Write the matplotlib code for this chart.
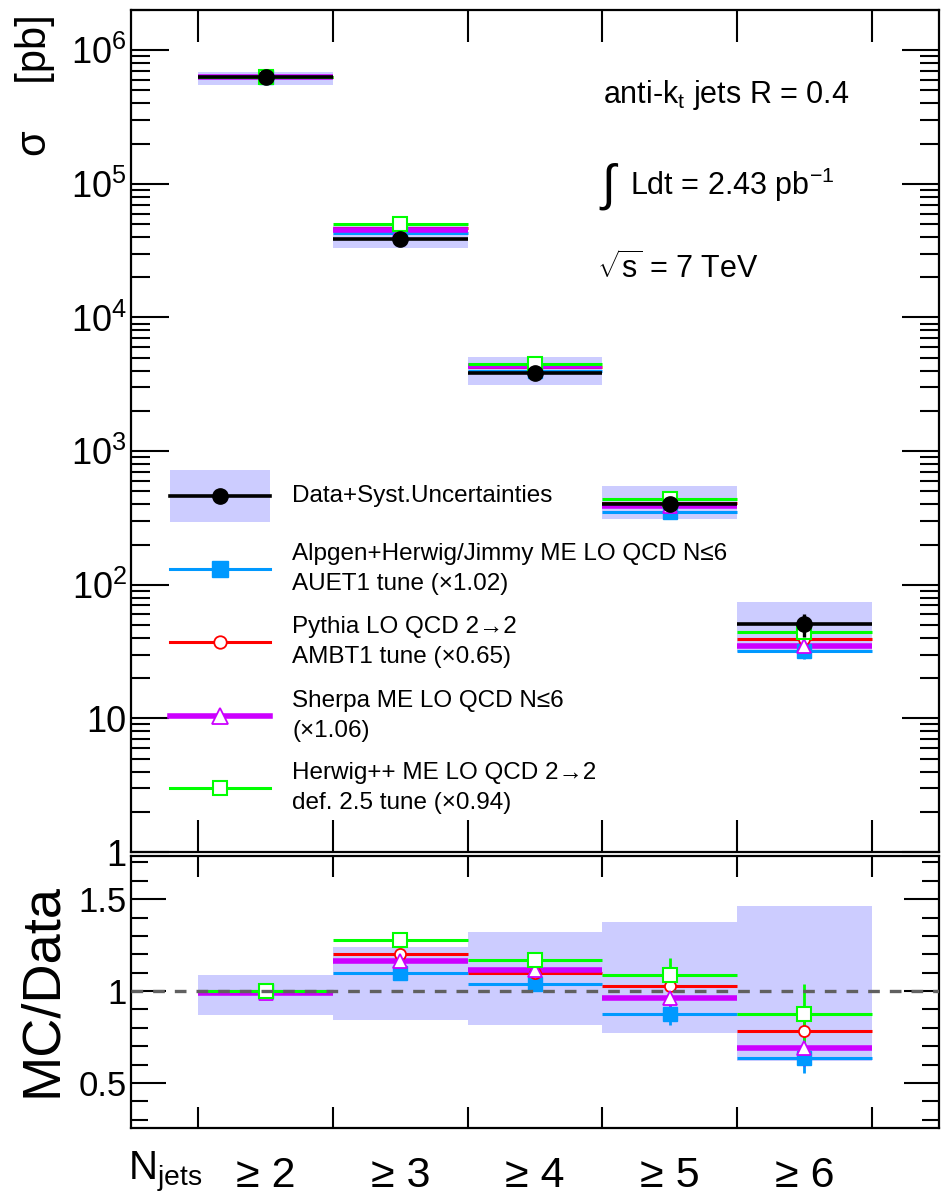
import matplotlib
matplotlib.use("Agg")
import matplotlib.pyplot as plt
import numpy as np
from matplotlib.lines import Line2D
from matplotlib.patches import Rectangle
from matplotlib.ticker import FixedLocator, NullFormatter, FuncFormatter, MultipleLocator

plt.rcParams['font.family'] = ['Liberation Sans', 'DejaVu Sans']
plt.rcParams['mathtext.fontset'] = 'custom'
plt.rcParams['mathtext.rm'] = 'Liberation Sans'
plt.rcParams['mathtext.it'] = 'Liberation Sans:italic'
plt.rcParams['xtick.direction'] = 'in'
plt.rcParams['ytick.direction'] = 'in'

# jet multiplicity bins
bin_labels = ['≥ 2', '≥ 3', '≥ 4', '≥ 5', '≥ 6']
bin_lo = np.array([1, 2, 3, 4, 5])
bin_hi = np.array([2, 3, 4, 5, 6])

# measured inclusive cross sections [pb]
data_xsec = np.array([6.34e5, 3.90e4, 3.85e3, 401.0, 50.6])
data_stat = np.array([0.002, 0.005, 0.015, 0.05, 0.20])      # relative
syst_up = np.array([0.086, 0.238, 0.323, 0.377, 0.465])       # relative
syst_dn = np.array([0.130, 0.157, 0.184, 0.229, 0.380])       # relative

# MC / data ratios (after normalisation) and their MC stat errors
ratio_alpgen = np.array([1.000, 1.096, 1.036, 0.877, 0.634])
ratio_pythia = np.array([1.000, 1.200, 1.101, 1.027, 0.782])
ratio_sherpa = np.array([0.990, 1.164, 1.117, 0.962, 0.690])
ratio_herwig = np.array([1.000, 1.279, 1.168, 1.088, 0.877])
err_alpgen = np.array([0.005, 0.015, 0.030, 0.060, 0.080])
err_pythia = np.array([0.005, 0.020, 0.040, 0.080, 0.130])
err_sherpa = np.array([0.005, 0.020, 0.035, 0.070, 0.100])
err_herwig = np.array([0.005, 0.025, 0.045, 0.090, 0.160])

band_col = '#ccccff'
mc = [
    ("Alpgen+Herwig/Jimmy ME LO QCD N≤6\nAUET1 tune (×1.02)", ratio_alpgen, err_alpgen,
     dict(color='#0099ff', lw=2.2, marker='s', ms=10, mfc='#0099ff')),
    ("Pythia LO QCD 2→2\nAMBT1 tune (×0.65)", ratio_pythia, err_pythia,
     dict(color='#ff0000', lw=2.2, marker='o', ms=8, mfc='white', mew=1.3)),
    ("Sherpa ME LO QCD N≤6\n(×1.06)", ratio_sherpa, err_sherpa,
     dict(color='#cc00ff', lw=4.0, marker='^', ms=10, mfc='white', mew=1.3)),
    ("Herwig++ ME LO QCD 2→2\ndef. 2.5 tune (×0.94)", ratio_herwig, err_herwig,
     dict(color='#00ff00', lw=2.2, marker='s', ms=9.5, mfc='white', mew=1.5)),
]

W, H = 941, 1199
fig = plt.figure(figsize=(W / 100, H / 100), dpi=100)


def fx(px):
    return px / W


def fy(py):
    return 1 - py / H


ax = fig.add_axes([fx(131), fy(852), fx(939) - fx(131), fy(10) - fy(852)])
ax2 = fig.add_axes([fx(131), fy(1128), fx(939) - fx(131), fy(856) - fy(1128)])
centers = 0.5 * (bin_lo + bin_hi)

# ---- upper panel: cross sections
ax.bar(centers, data_xsec * (syst_up + syst_dn), bottom=data_xsec * (1 - syst_dn),
       width=1.0, color=band_col, lw=0, zorder=1)
for label, r, e, st in mc:
    y = data_xsec * r
    ax.hlines(y, bin_lo, bin_hi, color=st['color'], lw=st['lw'], zorder=2)
    ax.errorbar(centers, y, yerr=data_xsec * e, fmt='none', ecolor=st['color'], elinewidth=2, zorder=3)
    ax.plot(centers, y, ls='none', marker=st['marker'], ms=st['ms'], mfc=st['mfc'],
            mec=st['color'], mew=st.get('mew', 1), zorder=4)
ax.hlines(data_xsec, bin_lo, bin_hi, color='black', lw=2.6, zorder=5)
ax.errorbar(centers, data_xsec, yerr=data_xsec * data_stat, fmt='o', color='black', ms=11,
            elinewidth=2.4, capsize=0, zorder=6)

ax.set_yscale('log')
ax.set_ylim(1, 2e6)
ax.set_xlim(0.5, 6.5)


def root_log(v, pos):
    if v == 1:
        return '1'
    if v == 10:
        return '10'
    return r'$10^{%d}$' % round(np.log10(v))


ax.yaxis.set_major_formatter(FuncFormatter(root_log))
ax.yaxis.set_minor_formatter(NullFormatter())
ax.set_yticks([1, 10, 100, 1e3, 1e4, 1e5, 1e6])
ax.tick_params(axis='y', which='major', length=27, width=1.5, labelsize=26, pad=3, right=True)
ax.tick_params(axis='y', which='minor', length=14, width=1.5, right=True)
ax.xaxis.set_major_locator(FixedLocator([1, 2, 3, 4, 5, 6]))
ax.tick_params(axis='x', which='major', length=23, width=1.5, top=True, labelbottom=False)
for sp in ax.spines.values():
    sp.set_linewidth(1.6)

# legend, laid out by hand (figure pixel positions)
leg_x0, leg_x1, leg_tx = 170, 270, 292
leg_rows = [496, 569, 642, 716, 788]
fig.add_artist(Rectangle((fx(leg_x0), fy(522)), fx(leg_x1) - fx(leg_x0), fy(470) - fy(522),
                         transform=fig.transFigure, facecolor=band_col, edgecolor='none'))
fig.add_artist(Line2D([fx(leg_x0), fx(leg_x1)], [fy(leg_rows[0])] * 2, transform=fig.transFigure,
                      color='black', lw=2.6))
fig.add_artist(Line2D([fx(220)], [fy(leg_rows[0])], transform=fig.transFigure, ls='none',
                      marker='o', ms=11, color='black'))
fig.text(fx(leg_tx), fy(leg_rows[0]), "Data+Syst.Uncertainties", fontsize=17.5, va='center', ha='left')
for row, (label, r, e, st) in zip(leg_rows[1:], mc):
    fig.add_artist(Line2D([fx(leg_x0), fx(leg_x1)], [fy(row)] * 2, transform=fig.transFigure,
                          color=st['color'], lw=st['lw']))
    fig.add_artist(Line2D([fx(220)], [fy(row)], transform=fig.transFigure, ls='none',
                          marker=st['marker'], ms=st['ms'] + 1, mfc=st['mfc'], mec=st['color'],
                          mew=st.get('mew', 1)))
    fig.text(fx(leg_tx), fy(row), label, fontsize=17.5, va='center', ha='left', linespacing=1.45)

fig.text(fx(603), fy(95), r'anti-k$_{\mathrm{t}}$ jets R = 0.4', fontsize=22, va='center', ha='left')
fig.text(fx(609), fy(187), r'$\int$', fontsize=36, va='center', ha='center')
fig.text(fx(630), fy(185), r'Ldt = 2.43 pb$^{\mathrm{-1}}$', fontsize=22, va='center', ha='left')
fig.text(fx(597), fy(268), r'$\sqrt{\mathrm{s}}$ = 7 TeV', fontsize=22, va='center', ha='left')
fig.text(fx(35), fy(14), 'σ    [pb]', fontsize=30, rotation=90, va='top', ha='center')

# ---- lower panel: MC / data
ax2.bar(centers, syst_up + syst_dn, bottom=1 - syst_dn, width=1.0, color=band_col, lw=0, zorder=1)
for label, r, e, st in mc:
    ax2.hlines(r, bin_lo, bin_hi, color=st['color'], lw=st['lw'], zorder=2)
    ax2.errorbar(centers, r, yerr=e, fmt='none', ecolor=st['color'], elinewidth=2, zorder=3)
    ax2.plot(centers, r, ls='none', marker=st['marker'], ms=st['ms'], mfc=st['mfc'],
             mec=st['color'], mew=st.get('mew', 1), zorder=4)
ax2.axhline(1.0, color='#606060', lw=2.4, ls=(0, (3.5, 3.0)), zorder=6)

ax2.set_xlim(0.5, 6.5)
ax2.set_ylim(0.255, 1.735)
ax2.yaxis.set_major_locator(FixedLocator([0.5, 1.0, 1.5]))
ax2.yaxis.set_minor_locator(MultipleLocator(0.1))
ax2.yaxis.set_major_formatter(FuncFormatter(lambda v, p: '%g' % v))
ax2.tick_params(axis='y', which='major', length=25, width=1.5, labelsize=25, pad=3, right=True)
ax2.tick_params(axis='y', which='minor', length=12, width=1.5, right=True)
ax2.set_xticks(centers, minor=True)
ax2.set_xticklabels(bin_labels, minor=True, fontsize=31)
ax2.xaxis.set_major_locator(FixedLocator([1, 2, 3, 4, 5, 6]))
ax2.xaxis.set_major_formatter(NullFormatter())
ax2.tick_params(axis='x', which='major', length=15, width=1.5, top=True)
ax2.tick_params(axis='x', which='minor', length=0, pad=20)
for sp in ax2.spines.values():
    sp.set_linewidth(1.6)

fig.text(fx(128), fy(1172), r'N$_{\mathrm{jets}}$', fontsize=29, va='center', ha='left')
fig.text(fx(42), fy(990), 'MC/Data', fontsize=39, rotation=90, va='center', ha='center')

fig.savefig('out.png', dpi=100)
